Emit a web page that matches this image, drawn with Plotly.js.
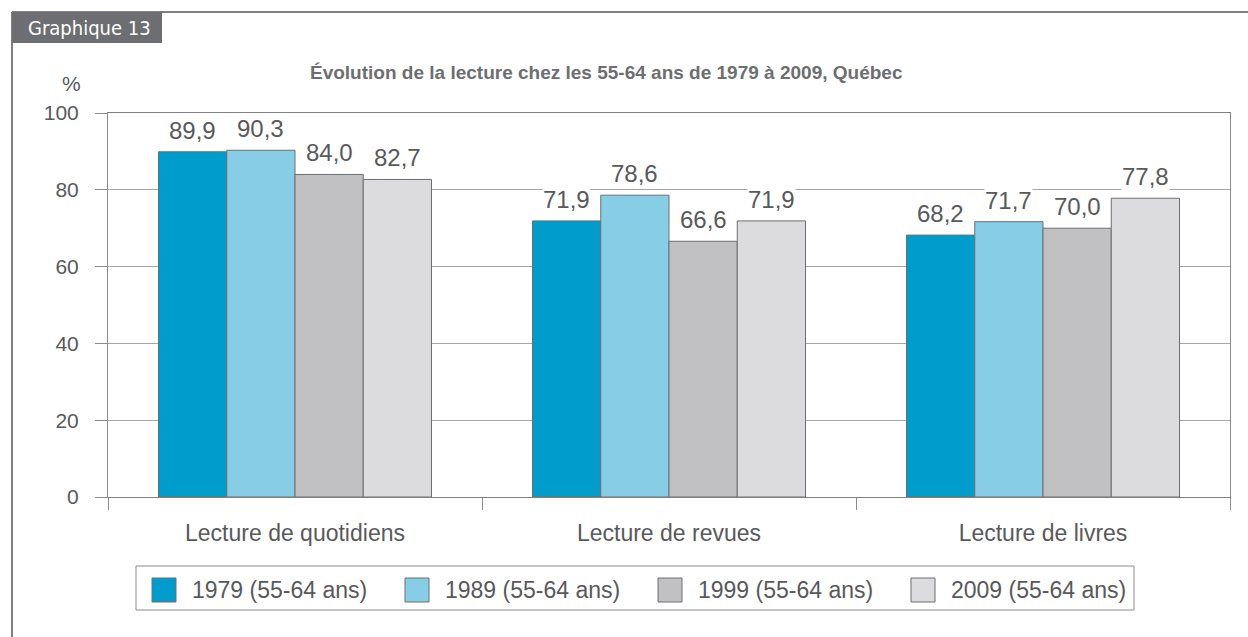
<!DOCTYPE html>
<html>
<head>
<meta charset="utf-8">
<script src="https://cdn.plot.ly/plotly-3.0.1.min.js"></script>
<style>html,body{margin:0;padding:0;background:#fff;}#chart{width:1248px;height:637px;}</style>
</head>
<body>
<div id="chart"></div>
<script>
const categories = ["Lecture de quotidiens", "Lecture de revues", "Lecture de livres"];
const seriesNames = ["1979 (55-64 ans)", "1989 (55-64 ans)", "1999 (55-64 ans)", "2009 (55-64 ans)"];
const values1979 = [89.9, 71.9, 68.2];
const values1989 = [90.3, 78.6, 71.7];
const values1999 = [84.0, 66.6, 70.0];
const values2009 = [82.7, 71.9, 77.8];
const yTicks = [0, 20, 40, 60, 80, 100];
const chartTitle = "Évolution de la lecture chez les 55-64 ans de 1979 à 2009, Québec";
const tabLabel = "Graphique 13";
const unitLabel = "%";

const seriesValues = [values1979, values1989, values1999, values2009];
const colors = ["#009ccb", "#87cde6", "#c1c1c3", "#dcdcde"];
const textColor = "#58595b";
const font = "Liberation Sans, Arial, sans-serif";

// layout geometry (pixels)
const W = 1248, H = 637, L = 108, R = 18, T = 113, B = 140;
const pw = W - L - R, ph = H - T - B;
const px = x => (x - L) / pw;
const py = y => (H - B - y) / ph;

const bargap = 0.27;
const barFrac = (1 - bargap) / seriesValues.length;

const traces = seriesValues.map((vals, i) => ({
  type: "bar",
  name: seriesNames[i],
  x: categories,
  y: vals,
  marker: { color: colors[i], line: { color: "#6d6e71", width: 1 } },
  hoverinfo: "skip",
  showlegend: false
}));

const annotations = [];
seriesValues.forEach((vals, si) => {
  vals.forEach((v, ci) => {
    annotations.push({
      x: ci + (si - (seriesValues.length - 1) / 2) * barFrac,
      y: v, xref: "x", yref: "y",
      text: v.toFixed(1).replace(".", ","),
      showarrow: false, yanchor: "bottom", yshift: 7,
      bgcolor: "#ffffff", borderpad: 0,
      font: { family: font, size: 24, color: textColor }
    });
  });
});

// title, unit, tab label
annotations.push({
  xref: "paper", yref: "paper", x: px(606), y: py(73),
  text: "<b>" + chartTitle + "</b>", showarrow: false,
  xanchor: "center", yanchor: "middle",
  font: { family: font, size: 19, color: "#6d6e71" }
});
annotations.push({
  xref: "paper", yref: "paper", x: px(71), y: py(83),
  text: unitLabel, showarrow: false, xanchor: "center", yanchor: "middle",
  font: { family: font, size: 21, color: textColor }
});
annotations.push({
  xref: "paper", yref: "paper", x: px(26), y: py(28),
  text: tabLabel, showarrow: false, xanchor: "left", yanchor: "middle",
  font: { family: "DejaVu Sans Condensed, Liberation Sans Narrow, sans-serif", size: 20, color: "#ffffff" }
});

const shapes = [
  // outer frame
  { type: "line", xref: "paper", yref: "paper", x0: px(12), x1: px(1248), y0: py(12), y1: py(12), line: { color: "#808080", width: 2 } },
  { type: "line", xref: "paper", yref: "paper", x0: px(12), x1: px(12), y0: py(12), y1: py(637), line: { color: "#808080", width: 2 } },
  // tab
  { type: "rect", xref: "paper", yref: "paper", x0: px(12), x1: px(162), y0: py(12), y1: py(43), fillcolor: "#6d6e71", line: { width: 0 } },
  // legend box
  { type: "rect", xref: "paper", yref: "paper", x0: px(136), x1: px(1134), y0: py(566), y1: py(610), fillcolor: "rgba(0,0,0,0)", line: { color: "#8c8c8c", width: 1 } }
];

// custom legend entries
seriesNames.forEach((name, i) => {
  const sx = 152 + i * 253;
  shapes.push({
    type: "rect", xref: "paper", yref: "paper",
    x0: px(sx), x1: px(sx + 24), y0: py(578), y1: py(602),
    fillcolor: colors[i], line: { color: "#6d6e71", width: 1 }
  });
  annotations.push({
    xref: "paper", yref: "paper", x: px(sx + 38), y: py(590),
    text: name, showarrow: false, xanchor: "left", yanchor: "middle",
    font: { family: font, size: 23, color: textColor }
  });
});

const layout = {
  width: W, height: H,
  margin: { l: L, r: R, t: T, b: B, pad: 0 },
  paper_bgcolor: "#ffffff", plot_bgcolor: "#ffffff",
  barmode: "group", bargap: bargap, bargroupgap: 0,
  showlegend: false,
  xaxis: {
    type: "category", categoryarray: categories,
    showgrid: false, showline: true, linecolor: "#808080", linewidth: 1, mirror: true,
    ticks: "outside", tickson: "boundaries", ticklen: 12, tickcolor: "#8c8c8c", tickwidth: 1,
    ticklabelstandoff: 15,
    tickfont: { family: font, size: 23, color: textColor },
    fixedrange: true
  },
  yaxis: {
    range: [0, 100], tickvals: yTicks, ticktext: yTicks.map(String),
    showgrid: true, gridcolor: "#a6a6a6", gridwidth: 1, zeroline: false,
    showline: true, linecolor: "#8c8c8c", linewidth: 1, mirror: true,
    ticks: "outside", ticklen: 12, tickcolor: "#8c8c8c", tickwidth: 1,
    ticklabelstandoff: 12,
    tickfont: { family: font, size: 21, color: textColor },
    fixedrange: true
  },
  shapes: shapes,
  annotations: annotations
};

Plotly.newPlot("chart", traces, layout, { displayModeBar: false, staticPlot: true });
</script>
</body>
</html>
